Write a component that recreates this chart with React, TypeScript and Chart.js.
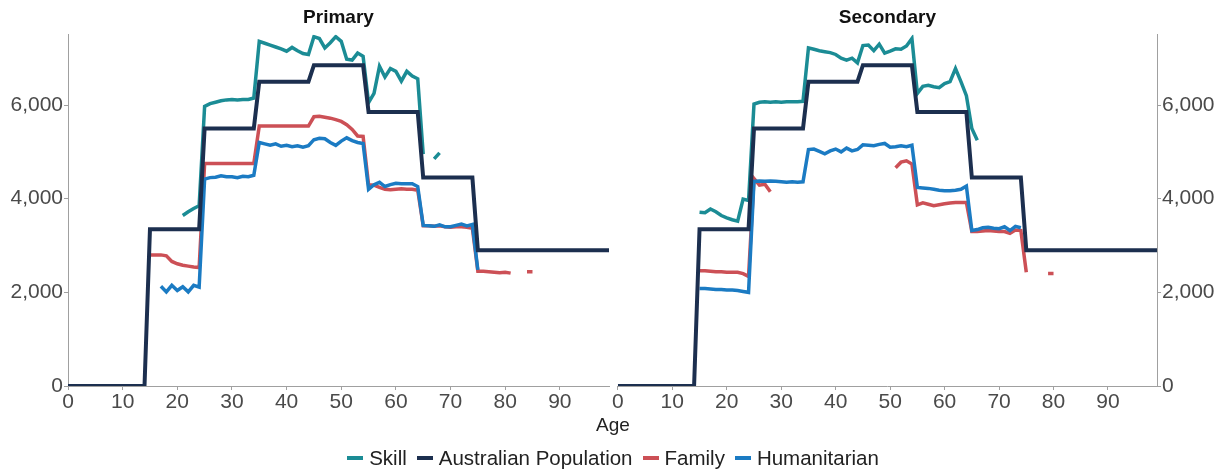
import React, { useEffect, useRef } from "react";
import { Chart, registerables } from "chart.js";

Chart.register(...registerables);

// ---------- data ----------
const X_TICKS = [0, 10, 20, 30, 40, 50, 60, 70, 80, 90];
const Y_TICKS = [0, 2000, 4000, 6000];
const SERIES_NAMES = ["Skill", "Australian Population", "Family", "Humanitarian"];
const SERIES_COLORS = ["#1b8c95", "#1c2f4f", "#cc5056", "#1b7bc3"];

// Australian population (step corners, same for both panels)
const popAges = [0, 14, 15, 24, 25, 34, 35, 44, 45, 54, 55, 64, 65, 74, 75, 99];
const popValues = [0, 0, 3350, 3350, 5500, 5500, 6500, 6500, 6850, 6850, 5850, 5850, 4450, 4450, 2900, 2900];

// Primary
const primarySkillStart = 21;
const primarySkill = [
  3640, 3720, 3790, 3850, 5970, 6030, 6060, 6090, 6110, 6120, 6110, 6120, 6120, 6150,
  7360, 7320, 7280, 7240, 7200, 7150, 7230, 7160, 7100, 7080,
  7460, 7420, 7220, 7330, 7460, 7360, 6980, 6960, 7110, 7040,
  6050, 6250, 6830, 6600, 6780, 6720, 6510, 6720, 6620, 6560,
  4950, null, 4850, 4980,
];
const primaryFamilyStart = 15;
const primaryFamily = [
  2800, 2800, 2800, 2780, 2660, 2610, 2580, 2560, 2540, 2530,
  4750, 4750, 4750, 4750, 4750, 4750, 4750, 4750, 4750, 4750,
  5550, 5550, 5550, 5550, 5550, 5550, 5550, 5550, 5550, 5550,
  5750, 5760, 5740, 5720, 5690, 5650, 5580, 5480, 5340, 5330,
  4300, 4290, 4240, 4200, 4190, 4200, 4210, 4200, 4200, 4180,
  3420, 3420, 3410, 3420, 3400, 3390, 3400, 3400, 3390, 3370,
  2450, 2450, 2440, 2430, 2420, 2430, 2410, null, null, 2440, 2440,
];
const primaryHumanitarianStart = 17;
const primaryHumanitarian = [
  2130, 2010, 2150, 2040, 2120, 2010, 2150, 2110,
  4420, 4450, 4460, 4490, 4470, 4470, 4450, 4480, 4470, 4500,
  5200, 5170, 5140, 5170, 5120, 5140, 5110, 5130, 5100, 5130,
  5260, 5290, 5280, 5200, 5140, 5230, 5300, 5240, 5200, 5180,
  4200, 4300, 4350, 4260, 4300, 4330, 4320, 4320, 4320, 4260,
  3430, 3420, 3410, 3440, 3400, 3400, 3430, 3460, 3420, 3450,
  2480,
];

// Secondary
const secondarySkillStart = 15;
const secondarySkill = [
  3710, 3700, 3780, 3720, 3640, 3590, 3550, 3520, 3990, 3960,
  6020, 6060, 6070, 6060, 6070, 6060, 6070, 6070, 6070, 6080,
  7220, 7190, 7160, 7140, 7120, 7080, 7000, 6960, 7000, 6900,
  7270, 7280, 7160, 7300, 7110, 7150, 7200, 7190, 7260, 7420,
  6250, 6400, 6420, 6390, 6370, 6460, 6500, 6780, 6500, 6200,
  5500, 5250,
];
const secondaryFamilyStart = 15;
const secondaryFamily = [
  2460, 2460, 2450, 2440, 2440, 2430, 2430, 2430, 2400, 2340,
  4430, 4290, 4310, 4150, null, null, null, null, null, null,
  null, null, null, null, null, null, null, null, null, null,
  null, null, null, null, null, null, 4660, 4780, 4810, 4740,
  3870, 3910, 3880, 3850, 3870, 3890, 3910, 3920, 3920, 3920,
  3300, 3300, 3310, 3320, 3310, 3300, 3300, 3260, 3330, 3320,
  2430, null, null, null, 2400, 2400,
];
const secondaryHumanitarianStart = 15;
const secondaryHumanitarian = [
  2080, 2080, 2070, 2060, 2060, 2050, 2050, 2040, 2020, 2000,
  4370, 4380, 4370, 4380, 4370, 4360, 4350, 4360, 4350, 4360,
  5050, 5060, 5010, 4960, 5020, 5060, 5000, 5080, 5020, 5050,
  5150, 5140, 5130, 5160, 5180, 5100, 5110, 5130, 5110, 5140,
  4240, 4230, 4220, 4200, 4180, 4170, 4170, 4180, 4200, 4270,
  3320, 3340, 3380, 3390, 3370, 3360, 3400, 3320, 3410, 3380,
];

// ---------- helpers ----------
const FONT = "Arial, 'Liberation Sans', Helvetica, sans-serif";

function fromStart(start: number, vals: (number | null)[]) {
  return vals.map((v, i) => ({ x: start + i, y: v }));
}
function fromPairs(xs: number[], ys: number[]) {
  return xs.map((x, i) => ({ x, y: ys[i] }));
}

function makeConfig(title: string, side: "left" | "right", skill: any[], family: any[], hum: any[]): any {
  const ds = (i: number, data: any[], order: number, width = 3.5) => ({
    label: SERIES_NAMES[i],
    data,
    borderColor: SERIES_COLORS[i],
    backgroundColor: SERIES_COLORS[i],
    borderWidth: width,
    pointRadius: 0,
    tension: 0,
    spanGaps: false,
    fill: false,
    order,
  });
  return {
    type: "line",
    data: {
      datasets: [
        ds(0, skill, 3),
        ds(1, fromPairs(popAges, popValues), 0, 4),
        ds(2, family, 2),
        ds(3, hum, 1),
      ],
    },
    options: {
      animation: false,
      responsive: false,
      maintainAspectRatio: false,
      layout: { padding: side === "left" ? { left: 0, right: 11, top: 0, bottom: 0 } : { left: 5, right: 0, top: 0, bottom: 0 } },
      plugins: {
        legend: { display: false },
        tooltip: { enabled: false },
        title: {
          display: true,
          text: title,
          fullSize: false,
          color: "#111",
          font: { family: FONT, size: 19, weight: "bold" },
          padding: { top: 6, bottom: 6 },
        },
      },
      scales: {
        x: {
          type: "linear",
          min: 0,
          max: 99,
          afterBuildTicks: (s: any) => {
            s.ticks = X_TICKS.map((v) => ({ value: v }));
          },
          afterFit: (s: any) => {
            s.height = 30;
          },
          ticks: { color: "#4a4a4a", font: { family: FONT, size: 21 }, padding: 0, maxRotation: 0, autoSkip: false },
          grid: { drawOnChartArea: false, drawTicks: true, tickLength: 4, color: "#a0a0a0" },
          border: { display: true, color: "#a0a0a0", width: 1 },
        },
        y: {
          type: "linear",
          position: side,
          min: 0,
          max: 7500,
          afterBuildTicks: (s: any) => {
            s.ticks = Y_TICKS.map((v) => ({ value: v }));
          },
          afterFit: (s: any) => {
            s.width = side === "left" ? 68 : 69;
          },
          ticks: {
            color: "#4a4a4a",
            font: { family: FONT, size: 21 },
            padding: 1,
            callback: (v: any) => Number(v).toLocaleString("en-US"),
          },
          grid: { drawOnChartArea: false, drawTicks: true, tickLength: 4, color: "#a0a0a0" },
          border: { display: true, color: "#a0a0a0", width: 1 },
        },
      },
    },
  };
}

function Panel(props: { title: string; side: "left" | "right"; left: number; width: number; skill: any[]; family: any[]; hum: any[] }) {
  const ref = useRef<HTMLCanvasElement>(null);
  useEffect(() => {
    if (!ref.current) return;
    const chart = new Chart(ref.current, makeConfig(props.title, props.side, props.skill, props.family, props.hum));
    return () => chart.destroy();
  }, []);
  return (
    <canvas
      ref={ref}
      width={props.width}
      height={416}
      style={{ position: "absolute", left: props.left, top: 0, width: props.width, height: 416 }}
    />
  );
}

export default function App() {
  return (
    <div style={{ position: "fixed", left: 0, top: 0, width: 1226, height: 474, background: "#fff", fontFamily: FONT }}>
      <Panel
        title="Primary"
        side="left"
        left={0}
        width={620}
        skill={fromStart(primarySkillStart, primarySkill)}
        family={fromStart(primaryFamilyStart, primaryFamily)}
        hum={fromStart(primaryHumanitarianStart, primaryHumanitarian)}
      />
      <Panel
        title="Secondary"
        side="right"
        left={612}
        width={614}
        skill={fromStart(secondarySkillStart, secondarySkill)}
        family={fromStart(secondaryFamilyStart, secondaryFamily)}
        hum={fromStart(secondaryHumanitarianStart, secondaryHumanitarian)}
      />
      <div style={{ position: "absolute", left: 0, width: 1226, top: 413, textAlign: "center", fontSize: 19, color: "#222", lineHeight: "24px" }}>
        Age
      </div>
      <div
        style={{
          position: "absolute",
          left: 0,
          width: 1226,
          top: 445,
          display: "flex",
          justifyContent: "center",
          alignItems: "center",
          fontSize: 20.5,
          color: "#222",
          lineHeight: "26px",
        }}
      >
        {SERIES_NAMES.map((n, i) => (
          <div key={n} style={{ display: "flex", alignItems: "center", marginRight: i < SERIES_NAMES.length - 1 ? 10 : 0 }}>
            <span style={{ display: "inline-block", width: 16, height: 4, background: SERIES_COLORS[i], marginRight: 6 }} />
            <span>{n}</span>
          </div>
        ))}
      </div>
    </div>
  );
}
